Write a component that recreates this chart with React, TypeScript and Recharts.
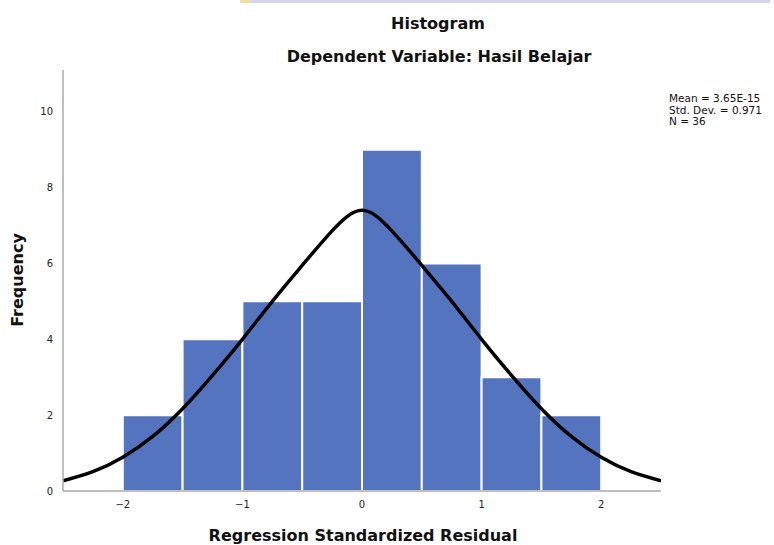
import React from "react";
import {
  ComposedChart, Line, XAxis, YAxis, ReferenceArea,
} from "recharts";

// histogram bins (lower edge, upper edge, count)
const binStart = [-2, -1.5, -1, -0.5, 0, 0.5, 1, 1.5];
const binEnd = [-1.5, -1, -0.5, 0, 0.5, 1, 1.5, 2];
const binCount = [2, 4, 5, 5, 9, 6, 3, 2];

// normal curve
const curveX = [-2.5, -2.25, -2, -1.75, -1.5, -1.25, -1, -0.75, -0.5, -0.25, 0,
  0.25, 0.5, 0.75, 1, 1.25, 1.5, 1.75, 2, 2.25, 2.5];
const curveY = [0.27, 0.51, 0.89, 1.44, 2.17, 3.05, 4.0, 5.0, 5.95, 6.86, 7.4,
  6.86, 5.95, 5.0, 4.0, 3.05, 2.17, 1.44, 0.89, 0.51, 0.27];

const xTicks = [-2, -1, 0, 1, 2];
const yTicks = [0, 2, 4, 6, 8, 10];

const statLines = ["Mean = 3.65E-15", "Std. Dev. = 0.971", "N = 36"];

const curveData = curveX.map((x, i) => ({ x, y: curveY[i] }));

const fmt = (v: number) => (v < 0 ? "\u2212" + Math.abs(v) : String(v));

const labelFont = "'DejaVu Sans', sans-serif";

const bold: React.CSSProperties = {
  position: "absolute", fontFamily: labelFont, fontWeight: 700, fontSize: 16,
  color: "#111", whiteSpace: "nowrap", lineHeight: "20px",
};

export default function App() {
  if (typeof document !== "undefined") document.body.style.margin = "0";
  return (
    <div style={{ position: "relative", width: 774, height: 545, background: "#fff", overflow: "hidden" }}>
      <div style={{ position: "absolute", left: 250, top: 0, width: 520, height: 3, background: "#d4d4f4" }} />
      <div style={{ position: "absolute", left: 240, top: 0, width: 10, height: 3, background: "#f4dca0" }} />
      <div style={{ ...bold, left: 438, top: 14, transform: "translateX(-50%)" }}>Histogram</div>
      <div style={{ ...bold, left: 439, top: 47, transform: "translateX(-50%)" }}>Dependent Variable: Hasil Belajar</div>
      <div style={{
        position: "absolute", left: 669, top: 93, fontFamily: labelFont,
        fontSize: 10.5, lineHeight: "11.5px", color: "#111", whiteSpace: "nowrap",
      }}>
        {statLines.map((s) => <div key={s}>{s}</div>)}
      </div>
      <div style={{ ...bold, left: 363, top: 526, transform: "translateX(-50%)" }}>Regression Standardized Residual</div>
      <div style={{ ...bold, left: 18, top: 280, transform: "translate(-50%, -50%) rotate(-90deg)" }}>Frequency</div>
      <ComposedChart
        width={774}
        height={545}
        margin={{ top: 70, right: 113, bottom: 24, left: 0 }}
        style={{ position: "absolute", left: 0, top: 0 }}
      >
        <XAxis
          dataKey="x"
          type="number"
          domain={[-2.5, 2.5]}
          ticks={xTicks}
          tickFormatter={fmt}
          height={30}
          tickLine={false}
          axisLine={{ stroke: "#aaaaaa", strokeWidth: 1.5 }}
          tick={{ fill: "#222", fontSize: 10, fontFamily: labelFont }}
          tickMargin={4}
          allowDataOverflow
        />
        <YAxis
          type="number"
          domain={[0, 11.1]}
          ticks={yTicks}
          width={63}
          tickLine={false}
          axisLine={{ stroke: "#aaaaaa", strokeWidth: 1.5 }}
          tick={{ fill: "#222", fontSize: 10, fontFamily: labelFont }}
          tickMargin={4}
          allowDataOverflow
        />
        {binStart.map((b, i) => (
          <ReferenceArea
            key={b}
            x1={b}
            x2={binEnd[i]}
            y1={0}
            y2={binCount[i]}
            fill="#5574c0"
            fillOpacity={1}
            stroke="#ffffff"
            strokeWidth={2}
            ifOverflow="visible"
          />
        ))}
        <Line
          data={curveData}
          dataKey="y"
          type="natural"
          stroke="#000"
          strokeWidth={3.5}
          dot={false}
          activeDot={false}
          isAnimationActive={false}
        />
      </ComposedChart>
    </div>
  );
}
